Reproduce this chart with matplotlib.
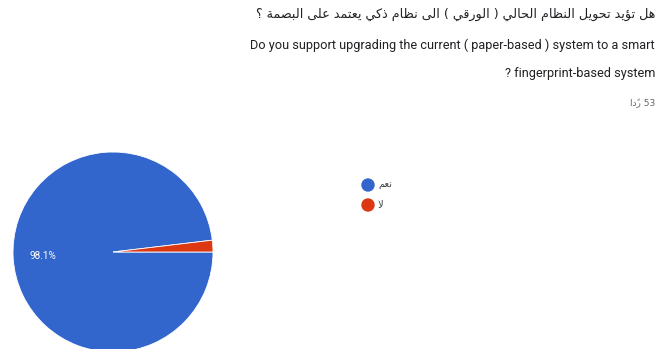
import matplotlib
matplotlib.use("Agg")
import matplotlib.pyplot as plt
from matplotlib.patches import Ellipse

# ---------------- data ----------------
title_ar = "هل تؤيد تحويل النظام الحالي ( الورقي ) الى نظام ذكي يعتمد على البصمة ؟"
title_en_1 = "Do you support upgrading the current ( paper-based ) system to a smart"
title_en_2 = "? fingerprint-based system"
responses_label = "53 ردًا"
categories = ["نعم", "لا"]
counts = [52, 1]
colors = ["#3366cc", "#dc3912"]

# ---------------- minimal Arabic shaping (presentation forms) ----------------
FORMS = {  # iso, fin, ini, med
    'ا': ('\uFE8D', '\uFE8E', None, None),
    'ؤ': ('\uFE85', '\uFE86', None, None),
    'ب': ('\uFE8F', '\uFE90', '\uFE91', '\uFE92'),
    'ة': ('\uFE93', '\uFE94', None, None),
    'ت': ('\uFE95', '\uFE96', '\uFE97', '\uFE98'),
    'ح': ('\uFEA1', '\uFEA2', '\uFEA3', '\uFEA4'),
    'د': ('\uFEA9', '\uFEAA', None, None),
    'ذ': ('\uFEAB', '\uFEAC', None, None),
    'ر': ('\uFEAD', '\uFEAE', None, None),
    'ص': ('\uFEB9', '\uFEBA', '\uFEBB', '\uFEBC'),
    'ظ': ('\uFEC5', '\uFEC6', '\uFEC7', '\uFEC8'),
    'ع': ('\uFEC9', '\uFECA', '\uFECB', '\uFECC'),
    'ق': ('\uFED5', '\uFED6', '\uFED7', '\uFED8'),
    'ك': ('\uFED9', '\uFEDA', '\uFEDB', '\uFEDC'),
    'ل': ('\uFEDD', '\uFEDE', '\uFEDF', '\uFEE0'),
    'م': ('\uFEE1', '\uFEE2', '\uFEE3', '\uFEE4'),
    'ن': ('\uFEE5', '\uFEE6', '\uFEE7', '\uFEE8'),
    'ه': ('\uFEE9', '\uFEEA', '\uFEEB', '\uFEEC'),
    'و': ('\uFEED', '\uFEEE', None, None),
    'ى': ('\uFEEF', '\uFEF0', None, None),
    'ي': ('\uFEF1', '\uFEF2', '\uFEF3', '\uFEF4'),
}
MARKS = set('\u064B\u064C\u064D\u064E\u064F\u0650\u0651\u0652')
MIRROR = {'(': ')', ')': '('}


def shape_ar(text):
    clusters = []
    for ch in text:
        if ch in MARKS and clusters:
            clusters[-1][1].append(ch)
        else:
            clusters.append([ch, []])
    merged = []
    i = 0
    while i < len(clusters):
        b, m = clusters[i]
        if b == 'ل' and i + 1 < len(clusters) and clusters[i + 1][0] == 'ا':
            merged.append(['LA', m + clusters[i + 1][1]])
            i += 2
        else:
            merged.append([b, m])
            i += 1
    clusters = merged

    def dual(c):
        return c in FORMS and FORMS[c][2] is not None

    def joining(c):
        return c in FORMS or c == 'LA'

    out = []
    for i, (b, m) in enumerate(clusters):
        prev_j = i > 0 and dual(clusters[i - 1][0])
        next_j = i + 1 < len(clusters) and joining(clusters[i + 1][0])
        if b == 'LA':
            g = '\uFEFC' if prev_j else '\uFEFB'
        elif b in FORMS:
            iso, fin, ini, med = FORMS[b]
            can_next = next_j and ini is not None
            if prev_j and can_next:
                g = med
            elif prev_j:
                g = fin
            elif can_next:
                g = ini
            else:
                g = iso
        else:
            g = MIRROR.get(b, b)
        out.append(g + ''.join(m))
    out = out[::-1]
    res, run = [], []
    for g in out:
        if g.isascii() and (g.isalnum() or g in '.%'):
            run.append(g)
        else:
            if run:
                res.extend(run[::-1])
                run = []
            res.append(g)
    if run:
        res.extend(run[::-1])
    return ''.join(res)


# ---------------- figure ----------------
W, H = 664, 349
fig = plt.figure(figsize=(W / 100, H / 100), dpi=100)
fig.patch.set_facecolor("white")

AR_FONT = ["DejaVu Sans"]
EN_FONT = ["Roboto", "DejaVu Sans"]
dark = "#202124"

fig.text(655 / W, 1 - 14 / H, shape_ar(title_ar), ha="right", va="center",
         fontsize=9.2, family=AR_FONT, color=dark)
fig.text(655 / W, 1 - 45 / H, title_en_1, ha="right", va="center",
         fontsize=9.2, family=EN_FONT, color=dark)
fig.text(655 / W, 1 - 74 / H, title_en_2, ha="right", va="center",
         fontsize=9.2, family=EN_FONT, color=dark)
fig.text(655 / W, 1 - 103 / H, shape_ar(responses_label), ha="right", va="center",
         fontsize=6.5, family=AR_FONT, color="#5f6368")

# pie axes: center (113, 252) px, radius 100 px
cx, cy, r = 113, 252, 100
ax = fig.add_axes([(cx - r) / W, (H - cy - r) / H, 2 * r / W, 2 * r / H])


def pct(p):
    return f"{p:.1f}%" if p > 5 else ""


ax.pie(
    counts, colors=colors, startangle=0, counterclock=False, radius=1,
    autopct=pct, pctdistance=0.7,
    wedgeprops=dict(edgecolor="white", linewidth=0.6),
    textprops=dict(color="white", fontsize=7.2, family=EN_FONT),
)
ax.set_xlim(-1, 1)
ax.set_ylim(-1, 1)
ax.set_aspect("auto")
ax.axis("off")

# legend
leg_x = 368
leg_y = [185, 205]
for cat, col, ly in zip(categories, colors, leg_y):
    fig.add_artist(Ellipse((leg_x / W, 1 - ly / H), 12 / W, 12 / H,
                           transform=fig.transFigure, color=col))
    fig.text((leg_x + 10) / W, 1 - ly / H, shape_ar(cat), ha="left", va="center",
             fontsize=7, family=AR_FONT, color="#3c4043")

fig.savefig("out.png", dpi=100, facecolor="white")
